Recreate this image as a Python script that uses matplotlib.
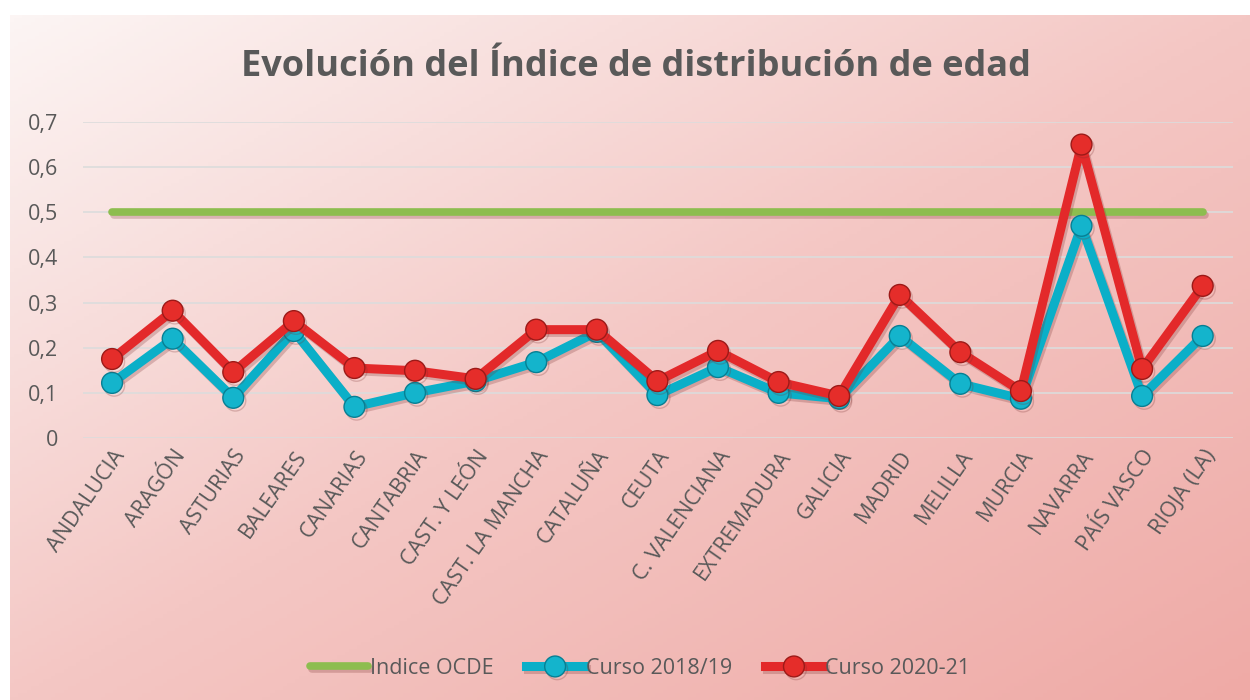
import numpy as np
import matplotlib
matplotlib.use("Agg")
import matplotlib.pyplot as plt
import matplotlib.patheffects as pe
from matplotlib.colors import LinearSegmentedColormap
from matplotlib.ticker import FuncFormatter

plt.rcParams['font.family'] = ['Open Sans', 'DejaVu Sans']

regiones = ["ANDALUCIA", "ARAGÓN", "ASTURIAS", "BALEARES", "CANARIAS", "CANTABRIA",
            "CAST. Y LEÓN", "CAST. LA MANCHA", "CATALUÑA", "CEUTA", "C. VALENCIANA",
            "EXTREMADURA", "GALICIA", "MADRID", "MELILLA", "MURCIA", "NAVARRA",
            "PAÍS VASCO", "RIOJA (LA)"]
indice_ocde = [0.5] * 19
curso_2018 = [0.122, 0.220, 0.089, 0.237, 0.069, 0.100, 0.126, 0.168, 0.235, 0.095,
              0.157, 0.100, 0.087, 0.226, 0.120, 0.087, 0.470, 0.093, 0.226]
curso_2020 = [0.175, 0.282, 0.146, 0.259, 0.155, 0.149, 0.131, 0.240, 0.240, 0.126,
              0.193, 0.124, 0.093, 0.317, 0.190, 0.104, 0.650, 0.153, 0.337]

grey = "#595959"
fig = plt.figure(figsize=(12.5, 7), dpi=100)

# background gradient
bg = fig.add_axes([10 / 1250, 0, 1 - 10 / 1250, 685 / 700])
xx, yy = np.meshgrid(np.linspace(0, 1, 300), np.linspace(0, 1, 200))
t = (xx + yy) / 2
cmap = LinearSegmentedColormap.from_list("bg", ["#fcf5f4", "#f4c7c4", "#efaaa6"])
bg.imshow(t, cmap=cmap, aspect="auto", extent=[0, 1, 0, 1], origin="upper")
bg.set_axis_off()

ax = fig.add_axes([83 / 1250, 1 - 438 / 700, 1150 / 1250, 316 / 700])
ax.patch.set_alpha(0)
x = np.arange(len(regiones))

shadow = [pe.SimpleLineShadow(offset=(1.5, -2), alpha=0.25, shadow_color="#7a3030"), pe.Normal()]
ax.plot(x, indice_ocde, color="#8dbd4f", lw=5.5, solid_capstyle="round",
        label="Indice OCDE", path_effects=shadow, zorder=3)
ax.plot(x, curso_2018, color="#0aafc8", lw=6.5, marker="o", ms=15,
        markerfacecolor="#14b4cc", markeredgecolor="#077f93", markeredgewidth=1,
        label="Curso 2018/19", path_effects=shadow, zorder=4)
ax.plot(x, curso_2020, color="#e3292a", lw=6.5, marker="o", ms=15,
        markerfacecolor="#e52d2a", markeredgecolor="#9c1a18", markeredgewidth=1,
        label="Curso 2020-21", path_effects=shadow, zorder=5)

ax.set_xlim(-0.48, 18.5)
ax.set_ylim(0, 0.7)
ax.set_yticks(np.arange(0, 0.71, 0.1))
ax.yaxis.set_major_formatter(FuncFormatter(lambda v, p: "0" if v == 0 else f"{v:.1f}".replace(".", ",")))
ax.grid(axis="y", color="#dcdcdc", lw=1.2)
ax.set_axisbelow(True)
for s in ax.spines.values():
    s.set_visible(False)
ax.tick_params(length=0, colors=grey, labelsize=15.5)
ax.tick_params(axis="y", pad=18)
ax.tick_params(axis="x", pad=6)
ax.set_xticks(x)
ax.set_xticklabels(regiones, rotation=55, ha="right", rotation_mode="anchor")

fig.text(0.509, 0.905, "Evolución del Índice de distribución de edad", ha="center", va="center",
         fontsize=26, fontweight="bold", color=grey)

fig.legend(loc="center", bbox_to_anchor=(0.512, 0.045), ncol=3, frameon=False,
           fontsize=15.5, labelcolor=grey, handlelength=2.7, handletextpad=0.1, columnspacing=1.5)

fig.savefig("out.png", dpi=100)
